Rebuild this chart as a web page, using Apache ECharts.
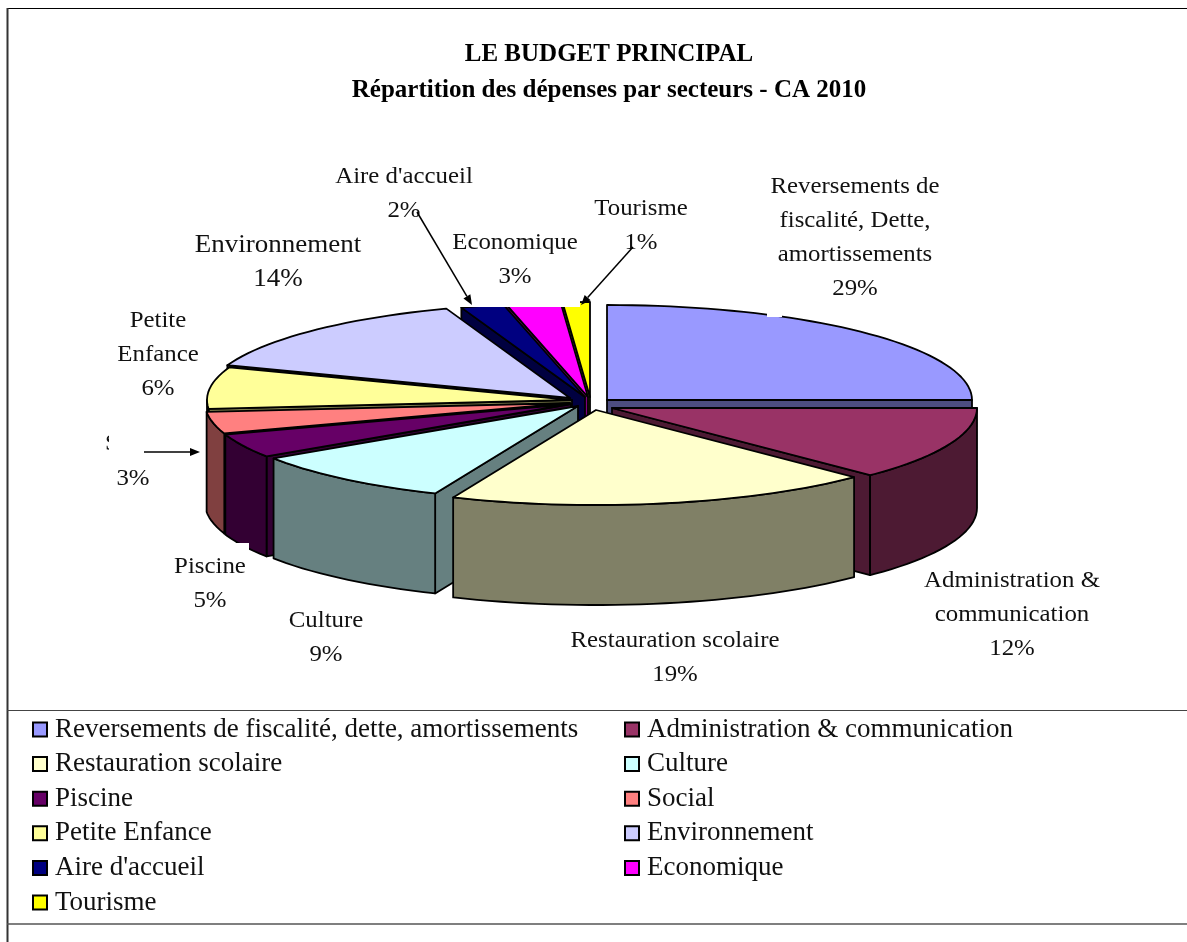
<!DOCTYPE html>
<html>
<head>
<meta charset="utf-8">
<style>
  html, body { margin: 0; padding: 0; background: #fff; }
  #chart { width: 1187px; height: 942px; }
</style>
<script src="https://cdn.jsdelivr.net/npm/echarts@6/dist/echarts.min.js"></script>
</head>
<body>
<div id="chart"></div>
<script>
var categories = ['Reversements de fiscalité, dette, amortissements', 'Administration & communication',
  'Restauration scolaire', 'Culture', 'Piscine', 'Social', 'Petite Enfance', 'Environnement',
  "Aire d'accueil", 'Economique', 'Tourisme'];
// share of the drawn pie (the printed % add up to 103)
var shares = [25, 12.5, 18.9, 9.3, 4.1, 3.7, 7.1, 13.9, 1.9, 2.4, 1.2];
var percentLabels = ['29%', '12%', '19%', '9%', '5%', '3%', '6%', '14%', '2%', '3%', '1%'];
var labelNames = [['Reversements de', 'fiscalité, Dette,', 'amortissements'], ['Administration &', 'communication'],
  ['Restauration scolaire'], ['Culture'], ['Piscine'], ['Social'], ['Petite', 'Enfance'], ['Environnement'],
  ["Aire d'accueil"], ['Economique'], ['Tourisme']];
var topColors = ['#9999FF', '#993366', '#FFFFCC', '#CCFFFF', '#660066', '#FF8080', '#FFFF99', '#CCCCFF', '#000080', '#FF00FF', '#FFFF00'];
var sideColors = ['#4D4D80', '#4D1A33', '#808066', '#668080', '#330033', '#804040', '#80804D', '#666680', '#000040', '#800080', '#808000'];

// pie layout
var rx = 365, ry = 95, depth = 100;
var cx = 590, cy = 402;
var explode = [[17, -2], [22, 6], [6, 8], [-12, 4], [-19, 2], [-20, 1], [-18, -2], [-20, -4], [-5, -5], [-2, -5], [0, -5]];
var drawRank = [4, 7, 9, 8, 6, 5, 4, 3, 2, 1, 0];
var labelPos = [[855, 187], [1012, 581], [675, 641], [326, 621], [210, 567], [133, 444], [158, 321], [278, 245], [404, 177], [515, 243], [641, 209]];
var rowStep = 34;

var total = shares.reduce(function(a, b) { return a + b; }, 0);
var angles = [0];
shares.forEach(function(s, i) { angles.push(angles[i] + s / total * 360); });

function rim(ax, ay, deg, drop) {
  var r = deg * Math.PI / 180;
  return [ax + rx * Math.sin(r), ay - ry * Math.cos(r) + (drop || 0)];
}

function arc(ax, ay, from, to, drop) {
  var pts = [];
  for (var a = from; a < to; a += 2) pts.push(rim(ax, ay, a, drop));
  pts.push(rim(ax, ay, to, drop));
  return pts;
}

function poly(points, fill) {
  return {
    type: 'polygon',
    shape: { points: points },
    style: { fill: fill, stroke: '#000', lineWidth: 1.8, lineJoin: 'round' }
  };
}

function cutFace(ax, ay, deg, side) {
  var p = rim(ax, ay, deg);
  return poly([[ax, ay], p, [p[0], p[1] + depth], [ax, ay + depth]], side);
}

function sliceRenderer(i) {
  return function(params, api) {
    var from = angles[i];
    var to = from + api.value(0) / total * 360;
    var ax = cx + explode[i][0], ay = cy + explode[i][1];
    var side = sideColors[i];
    var kids = [];
    // only the cut faces turned towards the viewer
    if (from > 180) kids.push(cutFace(ax, ay, from, side));
    if (to < 180) kids.push(cutFace(ax, ay, to, side));
    var wallFrom = Math.max(from, 90), wallTo = Math.min(to, 270);
    if (wallTo > wallFrom) {
      var upper = arc(ax, ay, wallFrom, wallTo);
      var lower = arc(ax, ay, wallFrom, wallTo, depth).reverse();
      kids.push(poly(upper.concat(lower), side));
    }
    kids.push(poly([[ax, ay]].concat(arc(ax, ay, from, to)), topColors[i]));
    return { type: 'group', children: kids };
  };
}

var series = categories.map(function(name, i) {
  return {
    type: 'custom',
    name: name,
    coordinateSystem: 'none',
    silent: true,
    z: 2 + drawRank[i],
    itemStyle: { color: topColors[i] },
    data: [shares[i]],
    renderItem: sliceRenderer(i)
  };
});

var fontName = '"Liberation Serif"';
var graphics = [];

function whiteBox(x, y, w, h, z) {
  graphics.push({ type: 'rect', z: z || 50, shape: { x: x, y: y, width: w, height: h }, style: { fill: '#fff' } });
}

function frameLine(x1, y1, x2, y2, color, width) {
  graphics.push({ type: 'line', z: 60, shape: { x1: x1, y1: y1, x2: x2, y2: y2 }, style: { stroke: color, lineWidth: width } });
}

function arrow(x1, y1, x2, y2) {
  var a = Math.atan2(y2 - y1, x2 - x1), h = 10, w = 4;
  var bx = x2 - h * Math.cos(a), by = y2 - h * Math.sin(a);
  graphics.push({ type: 'line', z: 70, shape: { x1: x1, y1: y1, x2: bx, y2: by }, style: { stroke: '#000', lineWidth: 1.5 } });
  graphics.push({ type: 'polygon', z: 70, shape: { points: [[x2, y2],
    [bx + w * Math.sin(a), by - w * Math.cos(a)], [bx - w * Math.sin(a), by + w * Math.cos(a)]] }, style: { fill: '#000' } });
}

// label boxes cut into the pie in the original
whiteBox(447, 228, 133, 79);
whiteBox(767, 300, 15, 17);
whiteBox(170, 543, 79, 70);

categories.forEach(function(name, i) {
  var lines = labelNames[i].concat(percentLabels[i]);
  lines.forEach(function(line, k) {
    graphics.push({
      type: 'text', z: 55,
      x: labelPos[i][0] + (i === 5 && k === 0 ? 3 : 0),
      y: labelPos[i][1] + (i === 5 && k === 1 ? rowStep + 1 : k * rowStep),
      scaleX: 1.08,
      style: { text: line, fill: '#111', font: (i === 7 ? 25 : 23) + 'px ' + fontName, textAlign: 'center', textVerticalAlign: 'middle' }
    });
  });
});
// Social label is cut off except for a sliver of its first letter
whiteBox(109, 430, 90, 26, 56);

arrow(417, 212, 472, 305);
arrow(633, 247, 581, 305);
arrow(144, 452, 200, 452);

frameLine(7, 8.5, 1187, 8.5, '#000', 1);
frameLine(7.5, 8, 7.5, 942, '#333', 2);
frameLine(7, 710.5, 1187, 710.5, '#444', 1);
frameLine(7, 924, 1187, 924, '#555', 1.5);

var legendBase = {
  orient: 'vertical',
  top: 711,
  itemWidth: 14,
  itemHeight: 14,
  itemGap: 7.6,
  selectedMode: false,
  icon: 'rect',
  itemStyle: { borderColor: '#000', borderWidth: 2 },
  textStyle: { fontFamily: fontName, fontSize: 27, color: '#111', padding: [0, 0, 0, 3] }
};

var option = {
  animation: false,
  backgroundColor: '#fff',
  title: {
    text: 'LE BUDGET PRINCIPAL\nRépartition des dépenses par secteurs - CA 2010',
    left: 604,
    top: 32,
    textAlign: 'center',
    textStyle: { fontFamily: fontName, fontSize: 25, fontWeight: 'bold', color: '#000', lineHeight: 36 }
  },
  legend: [
    Object.assign({}, legendBase, { left: 27, data: categories.filter(function(c, i) { return i % 2 === 0; }) }),
    Object.assign({}, legendBase, { left: 619, data: categories.filter(function(c, i) { return i % 2 === 1; }) })
  ],
  graphic: { elements: graphics },
  series: series
};

var chart = echarts.init(document.getElementById('chart'));
chart.setOption(option);
</script>
</body>
</html>
